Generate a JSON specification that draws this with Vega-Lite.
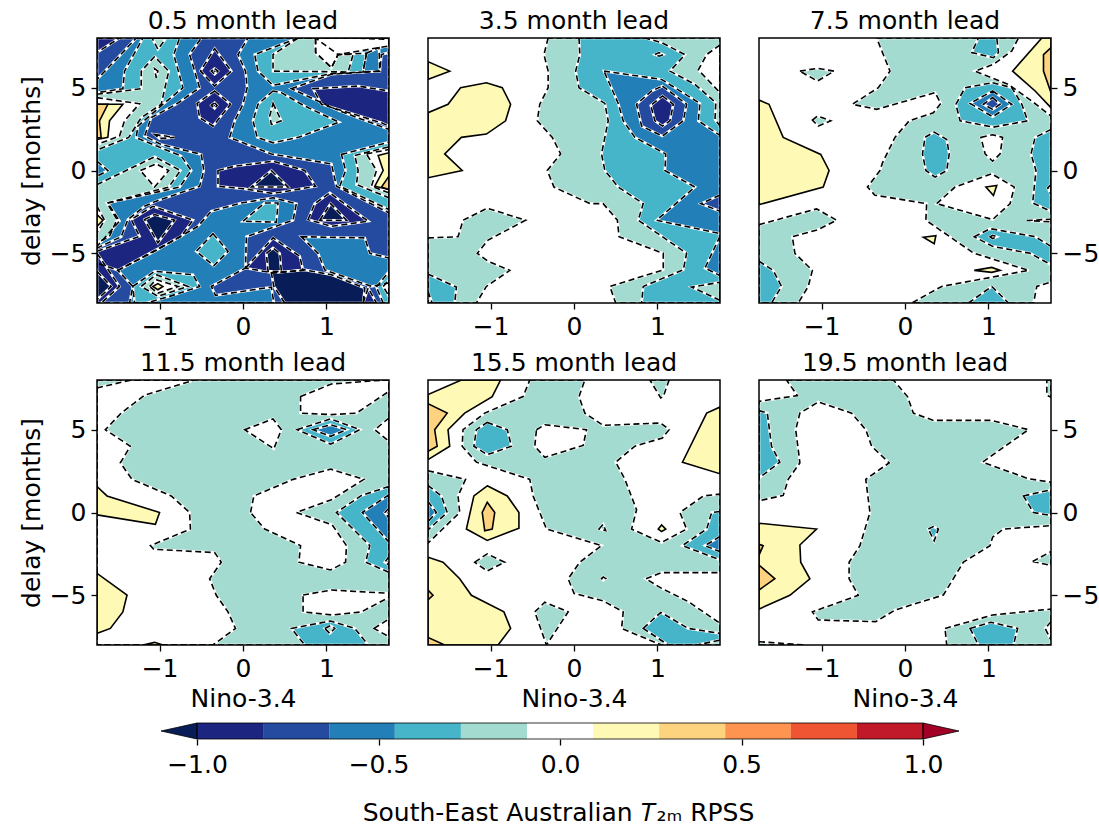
{"$schema":"https://vega.github.io/schema/vega-lite/v6.json","padding":{"left":19,"top":9,"right":5,"bottom":5},"background":"white","config":{"view":{"stroke":null},"font":"DejaVu Sans","axis":{"grid":false,"domain":false,"tickColor":"black","labelColor":"black","titleColor":"black","labelFontSize":25,"titleFontSize":25,"titleFontWeight":"normal","tickSize":6,"tickWidth":1.3,"labelPadding":5,"titlePadding":5},"title":{"fontSize":25,"fontWeight":"normal","color":"black","offset":1}},"datasets":{
"a":[
{"s":"a00","l":-0.73,"x":-1.75,"y":8},{"s":"a00","l":-0.73,"x":1.75,"y":8},{"s":"a00","l":-0.73,"x":1.75,"y":-8},{"s":"a00","l":-0.73,"x":-1.75,"y":-8},
{"s":"a01","l":-0.55,"x":-1.28,"y":8},{"s":"a01","l":-0.55,"x":-0.5,"y":8},{"s":"a01","l":-0.55,"x":-0.64,"y":7},{"s":"a01","l":-0.55,"x":-0.52,"y":5},{"s":"a01","l":-0.55,"x":-0.8,"y":4},{"s":"a01","l":-0.55,"x":-1.1,"y":3.19},{"s":"a01","l":-0.55,"x":-1.18,"y":2.08},{"s":"a01","l":-0.55,"x":-0.98,"y":1.57},{"s":"a01","l":-0.55,"x":-0.5,"y":0.97},{"s":"a01","l":-0.55,"x":-0.47,"y":0},{"s":"a01","l":-0.55,"x":-0.52,"y":-0.95},{"s":"a01","l":-0.55,"x":-1.04,"y":-1.85},{"s":"a01","l":-0.55,"x":-1.18,"y":-2.16},{"s":"a01","l":-0.55,"x":-1.38,"y":-2.96},{"s":"a01","l":-0.55,"x":-1.46,"y":-4},{"s":"a01","l":-0.55,"x":-1.75,"y":-4.68},{"s":"a01","l":-0.55,"x":-1.75,"y":5.5},{"s":"a01","l":-0.55,"x":-1.52,"y":6.71},
{"s":"a02","l":-0.55,"x":0.06,"y":8},{"s":"a02","l":-0.55,"x":1.75,"y":8},{"s":"a02","l":-0.55,"x":1.75,"y":-2.56},{"s":"a02","l":-0.55,"x":1.12,"y":-0.95},{"s":"a02","l":-0.55,"x":1.06,"y":0.4},{"s":"a02","l":-0.55,"x":0.34,"y":1},{"s":"a02","l":-0.55,"x":-0.16,"y":2},{"s":"a02","l":-0.55,"x":-0.1,"y":3},{"s":"a02","l":-0.55,"x":0,"y":4},{"s":"a02","l":-0.55,"x":0.05,"y":5},{"s":"a02","l":-0.55,"x":0.03,"y":6},{"s":"a02","l":-0.55,"x":-0.06,"y":7},
{"s":"a03","l":-0.55,"x":-1.5,"y":-6.03},{"s":"a03","l":-0.55,"x":-1.06,"y":-4.88},{"s":"a03","l":-0.55,"x":-0.54,"y":-3.37},{"s":"a03","l":-0.55,"x":-0.38,"y":-2.46},{"s":"a03","l":-0.55,"x":-0.02,"y":-1.96},{"s":"a03","l":-0.55,"x":0.36,"y":-1.65},{"s":"a03","l":-0.55,"x":0.64,"y":-2},{"s":"a03","l":-0.55,"x":0.6,"y":-3},{"s":"a03","l":-0.55,"x":0.04,"y":-4},{"s":"a03","l":-0.55,"x":0.03,"y":-5.89},{"s":"a03","l":-0.55,"x":-0.38,"y":-7},{"s":"a03","l":-0.55,"x":-0.33,"y":-7.54},{"s":"a03","l":-0.55,"x":0.34,"y":-7.04},{"s":"a03","l":-0.55,"x":0.37,"y":-8},{"s":"a03","l":-0.55,"x":-1.36,"y":-8},{"s":"a03","l":-0.55,"x":-1.32,"y":-7},
{"s":"a04","l":-0.55,"x":0.7,"y":-4},{"s":"a04","l":-0.55,"x":1.46,"y":-4.07},{"s":"a04","l":-0.55,"x":1.52,"y":-5},{"s":"a04","l":-0.55,"x":1.75,"y":-5.28},{"s":"a04","l":-0.55,"x":1.75,"y":-6.79},{"s":"a04","l":-0.55,"x":1.54,"y":-7},{"s":"a04","l":-0.55,"x":0.98,"y":-6},{"s":"a04","l":-0.55,"x":0.9,"y":-5},
{"s":"a05","l":-0.73,"x":0.58,"y":4.94},{"s":"a05","l":-0.73,"x":1.06,"y":5.81},{"s":"a05","l":-0.73,"x":1.64,"y":6},{"s":"a05","l":-0.73,"x":1.66,"y":7},{"s":"a05","l":-0.73,"x":1.75,"y":7.12},{"s":"a05","l":-0.73,"x":1.75,"y":2.48},{"s":"a05","l":-0.73,"x":1.16,"y":3.59},
{"s":"a06","l":-0.91,"x":0.84,"y":4.94},{"s":"a06","l":-0.91,"x":1.38,"y":5.1},{"s":"a06","l":-0.91,"x":1.75,"y":4.8},{"s":"a06","l":-0.91,"x":1.75,"y":2.68},{"s":"a06","l":-0.91,"x":1.66,"y":2.88},{"s":"a06","l":-0.91,"x":0.94,"y":4},
{"s":"a07","l":-0.91,"x":-1.75,"y":8},{"s":"a07","l":-0.91,"x":-1.48,"y":8},{"s":"a07","l":-0.91,"x":-1.75,"y":7.12},
{"s":"a08","l":-0.91,"x":-0.34,"y":7.36},{"s":"a08","l":-0.91,"x":-0.14,"y":6},{"s":"a08","l":-0.91,"x":-0.34,"y":5.1},{"s":"a08","l":-0.91,"x":-0.51,"y":6},
{"s":"a09","l":-1.09,"x":-0.34,"y":6.15},{"s":"a09","l":-1.09,"x":-0.3,"y":6},{"s":"a09","l":-1.09,"x":-0.34,"y":5.81},{"s":"a09","l":-1.09,"x":-0.38,"y":6},
{"s":"a10","l":-0.91,"x":-0.34,"y":4.8},{"s":"a10","l":-0.91,"x":-0.15,"y":4},{"s":"a10","l":-0.91,"x":-0.36,"y":2.68},{"s":"a10","l":-0.91,"x":-0.52,"y":3.19},{"s":"a10","l":-0.91,"x":-0.55,"y":4.05},
{"s":"a11","l":-1.09,"x":-0.34,"y":4.09},{"s":"a11","l":-1.09,"x":-0.31,"y":3.93},{"s":"a11","l":-1.09,"x":-0.34,"y":3.75},{"s":"a11","l":-1.09,"x":-0.38,"y":3.93},
{"s":"a12","l":-0.91,"x":-1.06,"y":2.18},{"s":"a12","l":-0.91,"x":-0.82,"y":2},{"s":"a12","l":-0.91,"x":-1,"y":1.92},
{"s":"a13","l":-0.91,"x":-0.3,"y":0},{"s":"a13","l":-0.91,"x":-0.1,"y":0.26},{"s":"a13","l":-0.91,"x":0.36,"y":0.56},{"s":"a13","l":-0.91,"x":0.74,"y":0},{"s":"a13","l":-0.91,"x":0.87,"y":-0.95},{"s":"a13","l":-0.91,"x":0.36,"y":-1.39},{"s":"a13","l":-0.91,"x":0.02,"y":-1.11},{"s":"a13","l":-0.91,"x":-0.3,"y":-0.95},
{"s":"a14","l":-1.09,"x":0.34,"y":0},{"s":"a14","l":-1.09,"x":0.54,"y":-1},{"s":"a14","l":-1.09,"x":0.1,"y":-1},
{"s":"a15","l":-0.91,"x":-1.75,"y":-4.88},{"s":"a15","l":-0.91,"x":-1.24,"y":-3.97},{"s":"a15","l":-0.91,"x":-1.34,"y":-2.96},{"s":"a15","l":-0.91,"x":-1.08,"y":-2.16},{"s":"a15","l":-0.91,"x":-0.6,"y":-3},{"s":"a15","l":-0.91,"x":-0.74,"y":-3.97},{"s":"a15","l":-0.91,"x":-1.5,"y":-6.03},{"s":"a15","l":-0.91,"x":-1.75,"y":-5.58},
{"s":"a16","l":-1.09,"x":-1.18,"y":-2.96},{"s":"a16","l":-1.09,"x":-1.06,"y":-2.66},{"s":"a16","l":-1.09,"x":-0.82,"y":-3},{"s":"a16","l":-1.09,"x":-1.02,"y":-4.37},
{"s":"a17","l":-0.91,"x":0.78,"y":-2.96},{"s":"a17","l":-0.91,"x":0.86,"y":-2},{"s":"a17","l":-0.91,"x":1.04,"y":-1.35},{"s":"a17","l":-0.91,"x":1.5,"y":-3.06},{"s":"a17","l":-0.91,"x":1.06,"y":-3.37},
{"s":"a18","l":-1.09,"x":0.92,"y":-3},{"s":"a18","l":-1.09,"x":1.05,"y":-2},{"s":"a18","l":-1.09,"x":1.24,"y":-3},
{"s":"a19","l":-0.91,"x":0.03,"y":-5.89},{"s":"a19","l":-0.91,"x":0.36,"y":-4.07},{"s":"a19","l":-0.91,"x":0.68,"y":-5.18},{"s":"a19","l":-0.91,"x":0.72,"y":-6.03},{"s":"a19","l":-0.91,"x":0.36,"y":-6.19},
{"s":"a20","l":-1.09,"x":0.34,"y":-6.19},{"s":"a20","l":-1.09,"x":0.74,"y":-6},{"s":"a20","l":-1.09,"x":1.06,"y":-6.29},{"s":"a20","l":-1.09,"x":1.46,"y":-7.1},{"s":"a20","l":-1.09,"x":1.44,"y":-8},{"s":"a20","l":-1.09,"x":0.5,"y":-8},{"s":"a20","l":-1.09,"x":0.37,"y":-7},
{"s":"a21","l":-1.09,"x":0.28,"y":-5},{"s":"a21","l":-1.09,"x":0.36,"y":-4.68},{"s":"a21","l":-1.09,"x":0.44,"y":-5},{"s":"a21","l":-1.09,"x":0.46,"y":-6.09},{"s":"a21","l":-1.09,"x":0.3,"y":-6.09},
{"s":"a22","l":-0.91,"x":-1.75,"y":-5},{"s":"a22","l":-0.91,"x":-1.48,"y":-7},{"s":"a22","l":-0.91,"x":-1.7,"y":-8},{"s":"a22","l":-0.91,"x":-1.75,"y":-8},
{"s":"a23","l":-1.09,"x":-1.75,"y":-6.09},{"s":"a23","l":-1.09,"x":-1.58,"y":-7},{"s":"a23","l":-1.09,"x":-1.75,"y":-7.8},
{"s":"a24","l":-0.91,"x":1.44,"y":-8},{"s":"a24","l":-0.91,"x":1.5,"y":-7.1},{"s":"a24","l":-0.91,"x":1.6,"y":-8},
{"s":"a25","l":-0.36,"x":-1.2,"y":8},{"s":"a25","l":-0.36,"x":-0.76,"y":8},{"s":"a25","l":-0.36,"x":-0.83,"y":7},{"s":"a25","l":-0.36,"x":-0.72,"y":5},{"s":"a25","l":-0.36,"x":-0.96,"y":4},{"s":"a25","l":-0.36,"x":-1.26,"y":2.68},{"s":"a25","l":-0.36,"x":-1.28,"y":1.98},{"s":"a25","l":-0.36,"x":-0.74,"y":0.87},{"s":"a25","l":-0.36,"x":-0.62,"y":0},{"s":"a25","l":-0.36,"x":-0.76,"y":-1},{"s":"a25","l":-0.36,"x":-1.62,"y":-1.96},{"s":"a25","l":-0.36,"x":-1.48,"y":-3.06},{"s":"a25","l":-0.36,"x":-1.75,"y":-4.58},{"s":"a25","l":-0.36,"x":-1.75,"y":4.7},{"s":"a25","l":-0.36,"x":-1.44,"y":4.94},{"s":"a25","l":-0.36,"x":-1.42,"y":6},
{"s":"a26","l":-0.36,"x":0.66,"y":8},{"s":"a26","l":-0.36,"x":0.14,"y":7},{"s":"a26","l":-0.36,"x":0.18,"y":6},{"s":"a26","l":-0.36,"x":0.36,"y":5.14},{"s":"a26","l":-0.36,"x":1.06,"y":5.85},{"s":"a26","l":-0.36,"x":1.44,"y":5.95},{"s":"a26","l":-0.36,"x":1.48,"y":7.08},{"s":"a26","l":-0.36,"x":1.14,"y":7},{"s":"a26","l":-0.36,"x":0.87,"y":8},
{"s":"a27","l":-0.36,"x":0.36,"y":4.8},{"s":"a27","l":-0.36,"x":0.18,"y":4},{"s":"a27","l":-0.36,"x":0.12,"y":3},{"s":"a27","l":-0.36,"x":0.17,"y":2},{"s":"a27","l":-0.36,"x":0.36,"y":1.67},{"s":"a27","l":-0.36,"x":0.66,"y":2},{"s":"a27","l":-0.36,"x":1.15,"y":2.92},{"s":"a27","l":-0.36,"x":0.74,"y":3.89},{"s":"a27","l":-0.36,"x":0.46,"y":4.7},
{"s":"a28","l":-0.36,"x":0,"y":-3.06},{"s":"a28","l":-0.36,"x":0.26,"y":-1.96},{"s":"a28","l":-0.36,"x":0.42,"y":-1.96},{"s":"a28","l":-0.36,"x":0.4,"y":-3.12},
{"s":"a29","l":-0.36,"x":-0.36,"y":-3.81},{"s":"a29","l":-0.36,"x":-0.18,"y":-4.88},{"s":"a29","l":-0.36,"x":-0.35,"y":-5.75},{"s":"a29","l":-0.36,"x":-0.56,"y":-4.88},
{"s":"a30","l":-0.36,"x":-1.32,"y":-7},{"s":"a30","l":-0.36,"x":-1.06,"y":-6.09},{"s":"a30","l":-0.36,"x":-0.6,"y":-6.29},{"s":"a30","l":-0.36,"x":-0.52,"y":-7},{"s":"a30","l":-0.36,"x":-0.88,"y":-7.6},{"s":"a30","l":-0.36,"x":-1.16,"y":-8},{"s":"a30","l":-0.36,"x":-1.3,"y":-8},
{"s":"a31","l":-0.36,"x":1.18,"y":0.97},{"s":"a31","l":-0.36,"x":1.75,"y":1.71},{"s":"a31","l":-0.36,"x":1.75,"y":-2.36},{"s":"a31","l":-0.36,"x":1.16,"y":-0.95},{"s":"a31","l":-0.36,"x":1.23,"y":0},
{"s":"a32","l":-0.36,"x":1.6,"y":-7.04},{"s":"a32","l":-0.36,"x":1.75,"y":-6.09},{"s":"a32","l":-0.36,"x":1.75,"y":-8},{"s":"a32","l":-0.36,"x":1.68,"y":-8},
{"s":"a33","l":-0.55,"x":1.48,"y":7.08},{"s":"a33","l":-0.55,"x":1.63,"y":7.42},{"s":"a33","l":-0.55,"x":1.64,"y":6},{"s":"a33","l":-0.55,"x":1.44,"y":5.95},
{"s":"a34","l":-0.55,"x":-1.75,"y":0.56},{"s":"a34","l":-0.55,"x":-1.62,"y":0},{"s":"a34","l":-0.55,"x":-1.75,"y":-0.34},
{"s":"a35","l":-0.18,"x":-1.09,"y":8},{"s":"a35","l":-0.18,"x":-0.92,"y":8},{"s":"a35","l":-0.18,"x":-1.02,"y":7.32},
{"s":"a36","l":-0.18,"x":-1.75,"y":4.6},{"s":"a36","l":-0.18,"x":-1.22,"y":4.94},{"s":"a36","l":-0.18,"x":-1.22,"y":6},{"s":"a36","l":-0.18,"x":-1.06,"y":6.88},{"s":"a36","l":-0.18,"x":-0.89,"y":6},{"s":"a36","l":-0.18,"x":-0.98,"y":4},{"s":"a36","l":-0.18,"x":-1.22,"y":3.19},{"s":"a36","l":-0.18,"x":-1.37,"y":2},{"s":"a36","l":-0.18,"x":-1.75,"y":1.23},
{"s":"a37","l":-0.18,"x":0.66,"y":8},{"s":"a37","l":-0.18,"x":0.36,"y":7},{"s":"a37","l":-0.18,"x":0.36,"y":6},{"s":"a37","l":-0.18,"x":1.26,"y":5.95},{"s":"a37","l":-0.18,"x":1.32,"y":7},{"s":"a37","l":-0.18,"x":1.14,"y":7},{"s":"a37","l":-0.18,"x":1.06,"y":6.21},{"s":"a37","l":-0.18,"x":0.87,"y":7.12},{"s":"a37","l":-0.18,"x":0.87,"y":8},
{"s":"a38","l":-0.18,"x":-1.75,"y":-0.85},{"s":"a38","l":-0.18,"x":-1.06,"y":0.83},{"s":"a38","l":-0.18,"x":-0.75,"y":0},{"s":"a38","l":-0.18,"x":-0.89,"y":-1},{"s":"a38","l":-0.18,"x":-1.63,"y":-1.96},{"s":"a38","l":-0.18,"x":-1.51,"y":-2.96},{"s":"a38","l":-0.18,"x":-1.6,"y":-3.97},{"s":"a38","l":-0.18,"x":-1.75,"y":-4.37},
{"s":"a39","l":-0.18,"x":0.36,"y":4.05},{"s":"a39","l":-0.18,"x":0.46,"y":3},{"s":"a39","l":-0.18,"x":0.34,"y":2.78},{"s":"a39","l":-0.18,"x":0.32,"y":3.29},
{"s":"a40","l":-0.18,"x":1.34,"y":0.91},{"s":"a40","l":-0.18,"x":1.75,"y":1.43},{"s":"a40","l":-0.18,"x":1.75,"y":-1.65},{"s":"a40","l":-0.18,"x":1.36,"y":-0.85},{"s":"a40","l":-0.18,"x":1.38,"y":0},
{"s":"a41","l":-0.18,"x":-1.22,"y":-7},{"s":"a41","l":-0.18,"x":-1.04,"y":-6.29},{"s":"a41","l":-0.18,"x":-0.66,"y":-7},{"s":"a41","l":-0.18,"x":-1.02,"y":-7.6},
{"s":"a42","l":0,"x":-1.75,"y":4.4},{"s":"a42","l":0,"x":-1.24,"y":4.03},{"s":"a42","l":0,"x":-1.42,"y":3},{"s":"a42","l":0,"x":-1.48,"y":2.08},{"s":"a42","l":0,"x":-1.75,"y":1.57},
{"s":"a43","l":0,"x":-1.23,"y":0},{"s":"a43","l":0,"x":-1.04,"y":0.4},{"s":"a43","l":0,"x":-0.89,"y":0},{"s":"a43","l":0,"x":-1.06,"y":-1},
{"s":"a44","l":0,"x":-1.75,"y":-2.16},{"s":"a44","l":0,"x":-1.66,"y":-3},{"s":"a44","l":0,"x":-1.75,"y":-3.77},
{"s":"a45","l":0,"x":0.87,"y":8},{"s":"a45","l":0,"x":0.87,"y":7.12},{"s":"a45","l":0,"x":1.06,"y":6.21},{"s":"a45","l":0,"x":1.14,"y":7},{"s":"a45","l":0,"x":1.75,"y":7.52},{"s":"a45","l":0,"x":1.75,"y":7.92},{"s":"a45","l":0,"x":1.3,"y":8},
{"s":"a46","l":0,"x":1.48,"y":1},{"s":"a46","l":0,"x":1.75,"y":1.27},{"s":"a46","l":0,"x":1.75,"y":-1.35},{"s":"a46","l":0,"x":1.54,"y":-0.95},{"s":"a46","l":0,"x":1.6,"y":0},
{"s":"a47","l":0,"x":-1.12,"y":-7},{"s":"a47","l":0,"x":-1.04,"y":-6.59},{"s":"a47","l":0,"x":-0.78,"y":-7},{"s":"a47","l":0,"x":-1.02,"y":-7.4},
{"s":"a48","l":0,"x":-1.06,"y":6.15},{"s":"a48","l":0,"x":-1.02,"y":6},{"s":"a48","l":0,"x":-1.04,"y":5.6},
{"s":"a49","l":0,"x":1.68,"y":-7},{"s":"a49","l":0,"x":1.75,"y":-6.59},{"s":"a49","l":0,"x":1.75,"y":-7.6},
{"s":"a50","l":0.18,"x":-1.75,"y":4},{"s":"a50","l":0.18,"x":-1.44,"y":4},{"s":"a50","l":0.18,"x":-1.6,"y":3},{"s":"a50","l":0.18,"x":-1.62,"y":2},{"s":"a50","l":0.18,"x":-1.75,"y":1.87},
{"s":"a51","l":0.36,"x":-1.75,"y":4},{"s":"a51","l":0.36,"x":-1.62,"y":4},{"s":"a51","l":0.36,"x":-1.72,"y":3},{"s":"a51","l":0.36,"x":-1.7,"y":1.98},{"s":"a51","l":0.36,"x":-1.75,"y":1.98},
{"s":"a52","l":0.18,"x":-1.75,"y":-2.66},{"s":"a52","l":0.18,"x":-1.68,"y":-3},{"s":"a52","l":0.18,"x":-1.75,"y":-3.37},
{"s":"a53","l":0.18,"x":1.62,"y":0.91},{"s":"a53","l":0.18,"x":1.75,"y":1.07},{"s":"a53","l":0.18,"x":1.75,"y":-1.15},{"s":"a53","l":0.18,"x":1.58,"y":-0.95},{"s":"a53","l":0.18,"x":1.68,"y":0},
{"s":"a54","l":0.36,"x":1.75,"y":-0.34},{"s":"a54","l":0.36,"x":1.66,"y":-1},{"s":"a54","l":0.36,"x":1.75,"y":-1.15},
{"s":"a55","l":0.18,"x":-1.08,"y":-7},{"s":"a55","l":0.18,"x":-1.02,"y":-6.83},{"s":"a55","l":0.18,"x":-0.96,"y":-7},{"s":"a55","l":0.18,"x":-1.02,"y":-7.2}
],
"b":[
{"s":"b01","l":-0.18,"x":-0.31,"y":8},{"s":"b01","l":-0.18,"x":-0.36,"y":7},{"s":"b01","l":-0.18,"x":-0.31,"y":6},{"s":"b01","l":-0.18,"x":-0.31,"y":5},{"s":"b01","l":-0.18,"x":-0.41,"y":4},{"s":"b01","l":-0.18,"x":-0.44,"y":3},{"s":"b01","l":-0.18,"x":-0.26,"y":2},{"s":"b01","l":-0.18,"x":-0.16,"y":1},{"s":"b01","l":-0.18,"x":-0.32,"y":0},{"s":"b01","l":-0.18,"x":-0.24,"y":-1},{"s":"b01","l":-0.18,"x":0.19,"y":-2},{"s":"b01","l":-0.18,"x":0.35,"y":-2},{"s":"b01","l":-0.18,"x":0.52,"y":-3},{"s":"b01","l":-0.18,"x":0.54,"y":-4},{"s":"b01","l":-0.18,"x":1.07,"y":-5},{"s":"b01","l":-0.18,"x":1.07,"y":-6},{"s":"b01","l":-0.18,"x":0.43,"y":-7},{"s":"b01","l":-0.18,"x":0.5,"y":-8},{"s":"b01","l":-0.18,"x":1.75,"y":-8},{"s":"b01","l":-0.18,"x":1.75,"y":8},
{"s":"b02","l":0,"x":1.75,"y":7.58},{"s":"b02","l":0,"x":1.59,"y":7},{"s":"b02","l":0,"x":1.49,"y":6.07},{"s":"b02","l":0,"x":1.75,"y":4.7},
{"s":"b03","l":-0.18,"x":-1.75,"y":-4.07},{"s":"b03","l":-0.18,"x":-1.39,"y":-4},{"s":"b03","l":-0.18,"x":-1.33,"y":-3},{"s":"b03","l":-0.18,"x":-1.04,"y":-2.28},{"s":"b03","l":-0.18,"x":-0.58,"y":-3},{"s":"b03","l":-0.18,"x":-1.03,"y":-4.2},{"s":"b03","l":-0.18,"x":-1.16,"y":-5},{"s":"b03","l":-0.18,"x":-1.03,"y":-5.48},{"s":"b03","l":-0.18,"x":-0.77,"y":-6.03},{"s":"b03","l":-0.18,"x":-1.05,"y":-7},{"s":"b03","l":-0.18,"x":-1.17,"y":-8},{"s":"b03","l":-0.18,"x":-1.75,"y":-8},
{"s":"b04","l":-0.36,"x":-1.75,"y":-6.25},{"s":"b04","l":-0.36,"x":-1.41,"y":-7.04},{"s":"b04","l":-0.36,"x":-1.43,"y":-8},{"s":"b04","l":-0.36,"x":-1.7,"y":-8},{"s":"b04","l":-0.36,"x":-1.75,"y":-7.3},
{"s":"b05","l":-0.36,"x":0.06,"y":8},{"s":"b05","l":-0.36,"x":0.07,"y":7},{"s":"b05","l":-0.36,"x":0.02,"y":6},{"s":"b05","l":-0.36,"x":0.06,"y":5},{"s":"b05","l":-0.36,"x":0.37,"y":4.05},{"s":"b05","l":-0.36,"x":0.41,"y":3},{"s":"b05","l":-0.36,"x":0.33,"y":1},{"s":"b05","l":-0.36,"x":0.37,"y":0},{"s":"b05","l":-0.36,"x":0.53,"y":-1},{"s":"b05","l":-0.36,"x":0.83,"y":-2},{"s":"b05","l":-0.36,"x":0.77,"y":-3},{"s":"b05","l":-0.36,"x":1.35,"y":-5},{"s":"b05","l":-0.36,"x":1.31,"y":-6},{"s":"b05","l":-0.36,"x":0.83,"y":-7},{"s":"b05","l":-0.36,"x":0.81,"y":-8},{"s":"b05","l":-0.36,"x":1.75,"y":-8},{"s":"b05","l":-0.36,"x":1.75,"y":2.68},{"s":"b05","l":-0.36,"x":1.69,"y":3.08},{"s":"b05","l":-0.36,"x":1.7,"y":4.09},{"s":"b05","l":-0.36,"x":1.45,"y":5.2},{"s":"b05","l":-0.36,"x":1.15,"y":6},{"s":"b05","l":-0.36,"x":1.33,"y":7},{"s":"b05","l":-0.36,"x":1.05,"y":7.72},{"s":"b05","l":-0.36,"x":0.85,"y":8},
{"s":"b06","l":-0.18,"x":1.75,"y":-7.84},{"s":"b06","l":-0.18,"x":1.41,"y":-7.04},{"s":"b06","l":-0.18,"x":1.75,"y":-6.75},
{"s":"b07","l":-0.55,"x":0.97,"y":7},{"s":"b07","l":-0.55,"x":1.02,"y":7.12},{"s":"b07","l":-0.55,"x":1.07,"y":7},{"s":"b07","l":-0.55,"x":1.02,"y":6.9},
{"s":"b08","l":-0.55,"x":0.36,"y":6},{"s":"b08","l":-0.55,"x":1.05,"y":5.5},{"s":"b08","l":-0.55,"x":1.51,"y":4.05},{"s":"b08","l":-0.55,"x":1.49,"y":3},{"s":"b08","l":-0.55,"x":1.75,"y":2.12},{"s":"b08","l":-0.55,"x":1.75,"y":-3.81},{"s":"b08","l":-0.55,"x":0.99,"y":-3},{"s":"b08","l":-0.55,"x":1.45,"y":-1},{"s":"b08","l":-0.55,"x":1.09,"y":0},{"s":"b08","l":-0.55,"x":1.1,"y":1},{"s":"b08","l":-0.55,"x":0.73,"y":2},{"s":"b08","l":-0.55,"x":0.59,"y":3},{"s":"b08","l":-0.55,"x":0.53,"y":4.05},
{"s":"b09","l":-0.55,"x":1.75,"y":-3.97},{"s":"b09","l":-0.55,"x":1.57,"y":-5.89},{"s":"b09","l":-0.55,"x":1.75,"y":-6.35},
{"s":"b10","l":-0.73,"x":1.75,"y":-1.49},{"s":"b10","l":-0.73,"x":1.52,"y":-2},{"s":"b10","l":-0.73,"x":1.75,"y":-2.46},
{"s":"b11","l":-0.73,"x":1.06,"y":5.1},{"s":"b11","l":-0.73,"x":1.35,"y":4},{"s":"b11","l":-0.73,"x":1.31,"y":3},{"s":"b11","l":-0.73,"x":1.06,"y":2.08},{"s":"b11","l":-0.73,"x":0.81,"y":2.68},{"s":"b11","l":-0.73,"x":0.75,"y":4},{"s":"b11","l":-0.73,"x":0.93,"y":4.8},
{"s":"b12","l":-0.91,"x":1.06,"y":4.5},{"s":"b12","l":-0.91,"x":1.19,"y":4},{"s":"b12","l":-0.91,"x":1.15,"y":3},{"s":"b12","l":-0.91,"x":1.06,"y":2.68},{"s":"b12","l":-0.91,"x":0.97,"y":3},{"s":"b12","l":-0.91,"x":0.92,"y":3.93},
{"s":"b13","l":0.18,"x":-1.75,"y":6.57},{"s":"b13","l":0.18,"x":-1.49,"y":6},{"s":"b13","l":0.18,"x":-1.75,"y":5.5},
{"s":"b14","l":0.18,"x":-1.75,"y":3.49},{"s":"b14","l":0.18,"x":-1.51,"y":4},{"s":"b14","l":0.18,"x":-1.36,"y":5},{"s":"b14","l":0.18,"x":-1.05,"y":5.3},{"s":"b14","l":0.18,"x":-0.86,"y":5},{"s":"b14","l":0.18,"x":-0.76,"y":4},{"s":"b14","l":0.18,"x":-0.82,"y":3},{"s":"b14","l":0.18,"x":-1.05,"y":2.2},{"s":"b14","l":0.18,"x":-1.35,"y":2},{"s":"b14","l":0.18,"x":-1.55,"y":1},{"s":"b14","l":0.18,"x":-1.34,"y":0},{"s":"b14","l":0.18,"x":-1.75,"y":-0.44}
],
"c":[
{"s":"c01","l":-0.18,"x":-0.34,"y":8},{"s":"c01","l":-0.18,"x":1.36,"y":8},{"s":"c01","l":-0.18,"x":1.28,"y":7.22},{"s":"c01","l":-0.18,"x":1.06,"y":6.41},{"s":"c01","l":-0.18,"x":0.84,"y":6},{"s":"c01","l":-0.18,"x":1.24,"y":5.2},{"s":"c01","l":-0.18,"x":1.52,"y":4.19},{"s":"c01","l":-0.18,"x":1.75,"y":3.29},{"s":"c01","l":-0.18,"x":1.75,"y":-6.73},{"s":"c01","l":-0.18,"x":1.58,"y":-7},{"s":"c01","l":-0.18,"x":1.54,"y":-8},{"s":"c01","l":-0.18,"x":0.08,"y":-8},{"s":"c01","l":-0.18,"x":0.44,"y":-7},{"s":"c01","l":-0.18,"x":1.48,"y":-6.03},{"s":"c01","l":-0.18,"x":0.82,"y":-4.98},{"s":"c01","l":-0.18,"x":0.25,"y":-3},{"s":"c01","l":-0.18,"x":0.26,"y":-2},{"s":"c01","l":-0.18,"x":-0.36,"y":-1.49},{"s":"c01","l":-0.18,"x":-0.45,"y":-1},{"s":"c01","l":-0.18,"x":-0.3,"y":0},{"s":"c01","l":-0.18,"x":-0.27,"y":0.46},{"s":"c01","l":-0.18,"x":-0.12,"y":2},{"s":"c01","l":-0.18,"x":0.05,"y":3},{"s":"c01","l":-0.18,"x":0.34,"y":3.49},{"s":"c01","l":-0.18,"x":0.43,"y":4.05},{"s":"c01","l":-0.18,"x":0.36,"y":4.7},{"s":"c01","l":-0.18,"x":-0.34,"y":3.69},{"s":"c01","l":-0.18,"x":-0.63,"y":4},{"s":"c01","l":-0.18,"x":-0.32,"y":5},{"s":"c01","l":-0.18,"x":-0.18,"y":6},
{"s":"c02","l":-0.18,"x":-1.75,"y":-3.27},{"s":"c02","l":-0.18,"x":-1.06,"y":-2.32},{"s":"c02","l":-0.18,"x":-0.82,"y":-3},{"s":"c02","l":-0.18,"x":-1.04,"y":-3.57},{"s":"c02","l":-0.18,"x":-1.35,"y":-4},{"s":"c02","l":-0.18,"x":-1.32,"y":-5},{"s":"c02","l":-0.18,"x":-1.11,"y":-6.03},{"s":"c02","l":-0.18,"x":-1.16,"y":-7},{"s":"c02","l":-0.18,"x":-1.28,"y":-8},{"s":"c02","l":-0.18,"x":-1.75,"y":-8},
{"s":"c03","l":-0.18,"x":-1.26,"y":6},{"s":"c03","l":-0.18,"x":-1.05,"y":6.17},{"s":"c03","l":-0.18,"x":-0.85,"y":6},{"s":"c03","l":-0.18,"x":-1.05,"y":5.4},
{"s":"c04","l":-0.18,"x":-1.11,"y":3.04},{"s":"c04","l":-0.18,"x":-1.05,"y":3.29},{"s":"c04","l":-0.18,"x":-0.89,"y":3},{"s":"c04","l":-0.18,"x":-1.04,"y":2.68},
{"s":"c05","l":0,"x":0.91,"y":2},{"s":"c05","l":0,"x":1.05,"y":2.16},{"s":"c05","l":0,"x":1.17,"y":2},{"s":"c05","l":0,"x":1.14,"y":1},{"s":"c05","l":0,"x":1.05,"y":0.56},{"s":"c05","l":0,"x":0.96,"y":1},
{"s":"c06","l":0,"x":0.38,"y":-2},{"s":"c06","l":0,"x":0.6,"y":-1},{"s":"c06","l":0,"x":1.04,"y":-0.2},{"s":"c06","l":0,"x":1.31,"y":-1},{"s":"c06","l":0,"x":1.26,"y":-2},{"s":"c06","l":0,"x":1.05,"y":-2.96},
{"s":"c07","l":-0.36,"x":0.88,"y":8},{"s":"c07","l":-0.36,"x":1.1,"y":8},{"s":"c07","l":-0.36,"x":1.12,"y":7.12},{"s":"c07","l":-0.36,"x":1.06,"y":6.81},{"s":"c07","l":-0.36,"x":0.8,"y":7.12},
{"s":"c08","l":-0.36,"x":0.76,"y":-8},{"s":"c08","l":-0.36,"x":1.04,"y":-7},{"s":"c08","l":-0.36,"x":1.24,"y":-8},
{"s":"c09","l":-0.36,"x":-1.75,"y":-5.48},{"s":"c09","l":-0.36,"x":-1.58,"y":-6.03},{"s":"c09","l":-0.36,"x":-1.48,"y":-7},{"s":"c09","l":-0.36,"x":-1.6,"y":-8},{"s":"c09","l":-0.36,"x":-1.75,"y":-8},
{"s":"c10","l":-0.36,"x":0.35,"y":2.32},{"s":"c10","l":-0.36,"x":0.5,"y":1.87},{"s":"c10","l":-0.36,"x":0.53,"y":1},{"s":"c10","l":-0.36,"x":0.5,"y":0},{"s":"c10","l":-0.36,"x":0.36,"y":-0.4},{"s":"c10","l":-0.36,"x":0.25,"y":0},{"s":"c10","l":-0.36,"x":0.21,"y":1},{"s":"c10","l":-0.36,"x":0.24,"y":2},
{"s":"c11","l":-0.36,"x":1.75,"y":2.48},{"s":"c11","l":-0.36,"x":1.56,"y":2},{"s":"c11","l":-0.36,"x":1.51,"y":1},{"s":"c11","l":-0.36,"x":1.57,"y":0},{"s":"c11","l":-0.36,"x":1.53,"y":-1.96},{"s":"c11","l":-0.36,"x":1.75,"y":-2.46},
{"s":"c12","l":-0.36,"x":1.05,"y":5.3},{"s":"c12","l":-0.36,"x":1.28,"y":5},{"s":"c12","l":-0.36,"x":1.4,"y":4},{"s":"c12","l":-0.36,"x":1.47,"y":3},{"s":"c12","l":-0.36,"x":1.06,"y":2.62},{"s":"c12","l":-0.36,"x":0.66,"y":3},{"s":"c12","l":-0.36,"x":0.61,"y":4},{"s":"c12","l":-0.36,"x":0.72,"y":5},
{"s":"c13","l":-0.36,"x":0.83,"y":-4},{"s":"c13","l":-0.36,"x":1.02,"y":-3.51},{"s":"c13","l":-0.36,"x":1.56,"y":-4},{"s":"c13","l":-0.36,"x":1.75,"y":-4.58},{"s":"c13","l":-0.36,"x":1.75,"y":-5.69},{"s":"c13","l":-0.36,"x":1.5,"y":-5},{"s":"c13","l":-0.36,"x":1.05,"y":-4.58},
{"s":"c14","l":-0.55,"x":1.05,"y":4.8},{"s":"c14","l":-0.55,"x":1.28,"y":4},{"s":"c14","l":-0.55,"x":1.05,"y":3.25},{"s":"c14","l":-0.55,"x":0.78,"y":4.05},
{"s":"c15","l":-0.73,"x":1.05,"y":4.4},{"s":"c15","l":-0.73,"x":1.14,"y":4},{"s":"c15","l":-0.73,"x":1.05,"y":3.69},{"s":"c15","l":-0.73,"x":0.94,"y":4},
{"s":"c16","l":-0.36,"x":1.46,"y":-3.02},{"s":"c16","l":-0.36,"x":1.75,"y":-2.94},{"s":"c16","l":-0.36,"x":1.75,"y":-3.1},
{"s":"c17","l":-0.18,"x":1.75,"y":-0.85},{"s":"c17","l":-0.18,"x":1.71,"y":-1.05},{"s":"c17","l":-0.18,"x":1.75,"y":-1.45},
{"s":"c18","l":-0.18,"x":1.02,"y":-4},{"s":"c18","l":-0.18,"x":1.05,"y":-3.91},{"s":"c18","l":-0.18,"x":1.1,"y":-4},{"s":"c18","l":-0.18,"x":1.05,"y":-4.11},
{"s":"c19","l":0.18,"x":-1.75,"y":4.25},{"s":"c19","l":0.18,"x":-1.63,"y":4},{"s":"c19","l":0.18,"x":-1.46,"y":2},{"s":"c19","l":0.18,"x":-1.01,"y":0.97},{"s":"c19","l":0.18,"x":-0.91,"y":0},{"s":"c19","l":0.18,"x":-0.98,"y":-1},{"s":"c19","l":0.18,"x":-1.75,"y":-2.06},
{"s":"c20","l":0.18,"x":1.75,"y":8},{"s":"c20","l":0.18,"x":1.64,"y":8},{"s":"c20","l":0.18,"x":1.29,"y":6},{"s":"c20","l":0.18,"x":1.56,"y":4.8},{"s":"c20","l":0.18,"x":1.75,"y":3.79},
{"s":"c21","l":0.36,"x":1.75,"y":7.42},{"s":"c21","l":0.36,"x":1.66,"y":7},{"s":"c21","l":0.36,"x":1.66,"y":6},{"s":"c21","l":0.36,"x":1.75,"y":4.7},
{"s":"c22","l":0.18,"x":0.97,"y":-1},{"s":"c22","l":0.18,"x":1.1,"y":-0.91},{"s":"c22","l":0.18,"x":1.06,"y":-1.51},
{"s":"c23","l":0.18,"x":0.22,"y":-4.03},{"s":"c23","l":0.18,"x":0.37,"y":-3.93},{"s":"c23","l":0.18,"x":0.35,"y":-4.42},
{"s":"c24","l":0.18,"x":0.83,"y":-6.03},{"s":"c24","l":0.18,"x":1.04,"y":-5.85},{"s":"c24","l":0.18,"x":1.14,"y":-6.03},{"s":"c24","l":0.18,"x":1.04,"y":-6.15}
],
"d":[
{"s":"d00","l":-0.18,"x":-1.75,"y":8},{"s":"d00","l":-0.18,"x":1.75,"y":8},{"s":"d00","l":-0.18,"x":1.75,"y":-8},{"s":"d00","l":-0.18,"x":-1.75,"y":-8},
{"s":"d01","l":0,"x":-1.75,"y":7.52},{"s":"d01","l":0,"x":-1.34,"y":8},{"s":"d01","l":0,"x":-0.58,"y":8},{"s":"d01","l":0,"x":-1.18,"y":7.08},{"s":"d01","l":0,"x":-1.46,"y":6},{"s":"d01","l":0,"x":-1.65,"y":5},{"s":"d01","l":0,"x":-1.35,"y":4},{"s":"d01","l":0,"x":-1.47,"y":3},{"s":"d01","l":0,"x":-1.33,"y":2},{"s":"d01","l":0,"x":-0.86,"y":1},{"s":"d01","l":0,"x":-0.64,"y":0},{"s":"d01","l":0,"x":-0.63,"y":-1},{"s":"d01","l":0,"x":-1.11,"y":-2},{"s":"d01","l":0,"x":-1.07,"y":-2.22},{"s":"d01","l":0,"x":-0.34,"y":-2.42},{"s":"d01","l":0,"x":-0.26,"y":-3},{"s":"d01","l":0,"x":-0.4,"y":-4},{"s":"d01","l":0,"x":-0.32,"y":-5},{"s":"d01","l":0,"x":-0.18,"y":-6},{"s":"d01","l":0,"x":-0.09,"y":-7},{"s":"d01","l":0,"x":-0.36,"y":-8},{"s":"d01","l":0,"x":-1.75,"y":-8},
{"s":"d02","l":0,"x":0.02,"y":5},{"s":"d02","l":0,"x":0.36,"y":5.65},{"s":"d02","l":0,"x":0.46,"y":5},{"s":"d02","l":0,"x":0.37,"y":3.85},
{"s":"d03","l":0,"x":0.69,"y":7},{"s":"d03","l":0,"x":1.06,"y":7.76},{"s":"d03","l":0,"x":1.7,"y":8},{"s":"d03","l":0,"x":1.75,"y":8},{"s":"d03","l":0,"x":1.75,"y":7.32},{"s":"d03","l":0,"x":1.36,"y":6},{"s":"d03","l":0,"x":1.06,"y":5.91},{"s":"d03","l":0,"x":0.69,"y":6},
{"s":"d04","l":0,"x":1.75,"y":5.71},{"s":"d04","l":0,"x":1.58,"y":5},{"s":"d04","l":0,"x":1.75,"y":4.29},
{"s":"d05","l":0,"x":0.09,"y":0},{"s":"d05","l":0,"x":0.13,"y":1},{"s":"d05","l":0,"x":0.6,"y":2},{"s":"d05","l":0,"x":1.05,"y":2.62},{"s":"d05","l":0,"x":1.45,"y":2},{"s":"d05","l":0,"x":1.06,"y":0.77},{"s":"d05","l":0,"x":0.64,"y":0},{"s":"d05","l":0,"x":1.07,"y":-0.75},{"s":"d05","l":0,"x":1.24,"y":-2},{"s":"d05","l":0,"x":1.23,"y":-3},{"s":"d05","l":0,"x":1.05,"y":-3.47},{"s":"d05","l":0,"x":0.67,"y":-3},{"s":"d05","l":0,"x":0.69,"y":-2},{"s":"d05","l":0,"x":0.26,"y":-1},
{"s":"d06","l":0,"x":0.72,"y":-4.98},{"s":"d06","l":0,"x":1.06,"y":-4.68},{"s":"d06","l":0,"x":1.75,"y":-4.88},{"s":"d06","l":0,"x":1.75,"y":-5.12},{"s":"d06","l":0,"x":1.42,"y":-6},{"s":"d06","l":0,"x":1.07,"y":-6.19},{"s":"d06","l":0,"x":0.72,"y":-6},
{"s":"d07","l":0,"x":1.57,"y":-7},{"s":"d07","l":0,"x":1.75,"y":-6.43},{"s":"d07","l":0,"x":1.75,"y":-7.5},
{"s":"d08","l":-0.36,"x":0.58,"y":-7},{"s":"d08","l":-0.36,"x":1.05,"y":-6.55},{"s":"d08","l":-0.36,"x":1.34,"y":-7},{"s":"d08","l":-0.36,"x":1.5,"y":-8},{"s":"d08","l":-0.36,"x":0.74,"y":-8},
{"s":"d09","l":-0.18,"x":0.98,"y":-7},{"s":"d09","l":-0.18,"x":1.05,"y":-6.83},{"s":"d09","l":-0.18,"x":1.1,"y":-7},{"s":"d09","l":-0.18,"x":1.04,"y":-7.3},
{"s":"d10","l":-0.36,"x":0.65,"y":5},{"s":"d10","l":-0.36,"x":1.05,"y":5.65},{"s":"d10","l":-0.36,"x":1.4,"y":5},{"s":"d10","l":-0.36,"x":1.05,"y":4.13},
{"s":"d11","l":-0.55,"x":0.84,"y":5},{"s":"d11","l":-0.55,"x":1.05,"y":5.3},{"s":"d11","l":-0.55,"x":1.24,"y":5},{"s":"d11","l":-0.55,"x":1.05,"y":4.6},
{"s":"d12","l":-0.36,"x":1.75,"y":1.57},{"s":"d12","l":-0.36,"x":1.42,"y":1.03},{"s":"d12","l":-0.36,"x":1.12,"y":0},{"s":"d12","l":-0.36,"x":1.52,"y":-2},{"s":"d12","l":-0.36,"x":1.47,"y":-3},{"s":"d12","l":-0.36,"x":1.75,"y":-3.61},
{"s":"d13","l":-0.55,"x":1.75,"y":1.07},{"s":"d13","l":-0.55,"x":1.43,"y":0},{"s":"d13","l":-0.55,"x":1.75,"y":-1.79},
{"s":"d14","l":-0.73,"x":1.75,"y":0.26},{"s":"d14","l":-0.73,"x":1.7,"y":0},{"s":"d14","l":-0.73,"x":1.75,"y":-0.34},
{"s":"d15","l":-0.55,"x":1.75,"y":-2.66},{"s":"d15","l":-0.55,"x":1.7,"y":-3},{"s":"d15","l":-0.55,"x":1.75,"y":-3.17},
{"s":"d16","l":0.18,"x":-1.75,"y":1.57},{"s":"d16","l":0.18,"x":-1.63,"y":1},{"s":"d16","l":0.18,"x":-1,"y":0},{"s":"d16","l":0.18,"x":-1.05,"y":-0.71},{"s":"d16","l":0.18,"x":-1.75,"y":-0.14},
{"s":"d17","l":0.18,"x":-1.75,"y":-3.67},{"s":"d17","l":0.18,"x":-1.39,"y":-4.98},{"s":"d17","l":0.18,"x":-1.44,"y":-6},{"s":"d17","l":0.18,"x":-1.59,"y":-7},{"s":"d17","l":0.18,"x":-1.75,"y":-7.3},
{"s":"d18","l":0.18,"x":-1.2,"y":-8},{"s":"d18","l":0.18,"x":-1.06,"y":-7.84},{"s":"d18","l":0.18,"x":-0.96,"y":-8}
],
"e":[
{"s":"e01","l":-0.18,"x":-0.53,"y":8},{"s":"e01","l":-0.18,"x":0.13,"y":8},{"s":"e01","l":-0.18,"x":0.06,"y":7},{"s":"e01","l":-0.18,"x":0.13,"y":6},{"s":"e01","l":-0.18,"x":0.35,"y":5.26},{"s":"e01","l":-0.18,"x":1.04,"y":5.4},{"s":"e01","l":-0.18,"x":1.14,"y":5},{"s":"e01","l":-0.18,"x":1.06,"y":4.5},{"s":"e01","l":-0.18,"x":0.73,"y":4},{"s":"e01","l":-0.18,"x":0.5,"y":3.04},{"s":"e01","l":-0.18,"x":0.61,"y":2},{"s":"e01","l":-0.18,"x":0.75,"y":0.16},{"s":"e01","l":-0.18,"x":0.69,"y":-1},{"s":"e01","l":-0.18,"x":1.05,"y":-1.81},{"s":"e01","l":-0.18,"x":1.35,"y":-1},{"s":"e01","l":-0.18,"x":1.27,"y":0},{"s":"e01","l":-0.18,"x":1.55,"y":1},{"s":"e01","l":-0.18,"x":1.75,"y":1.11},{"s":"e01","l":-0.18,"x":1.75,"y":-3.63},{"s":"e01","l":-0.18,"x":1.05,"y":-3.63},{"s":"e01","l":-0.18,"x":0.86,"y":-4},{"s":"e01","l":-0.18,"x":1.05,"y":-4.58},{"s":"e01","l":-0.18,"x":1.37,"y":-5.38},{"s":"e01","l":-0.18,"x":1.75,"y":-6.69},{"s":"e01","l":-0.18,"x":1.75,"y":-8},{"s":"e01","l":-0.18,"x":1.05,"y":-8},{"s":"e01","l":-0.18,"x":0.57,"y":-7},{"s":"e01","l":-0.18,"x":0.59,"y":-6},{"s":"e01","l":-0.18,"x":0.35,"y":-5.34},{"s":"e01","l":-0.18,"x":0,"y":-4.88},{"s":"e01","l":-0.18,"x":-0.07,"y":-4},{"s":"e01","l":-0.18,"x":0.07,"y":-3},{"s":"e01","l":-0.18,"x":0.33,"y":-2},{"s":"e01","l":-0.18,"x":-0.33,"y":-1},{"s":"e01","l":-0.18,"x":-0.49,"y":1},{"s":"e01","l":-0.18,"x":-0.53,"y":2},{"s":"e01","l":-0.18,"x":-1.17,"y":3.04},{"s":"e01","l":-0.18,"x":-1.34,"y":4},{"s":"e01","l":-0.18,"x":-1.33,"y":5},{"s":"e01","l":-0.18,"x":-1.07,"y":6},{"s":"e01","l":-0.18,"x":-0.61,"y":7},
{"s":"e02","l":-0.18,"x":0.91,"y":8},{"s":"e02","l":-0.18,"x":1.14,"y":8},{"s":"e02","l":-0.18,"x":1.07,"y":7},{"s":"e02","l":-0.18,"x":1.04,"y":6.92},
{"s":"e03","l":-0.18,"x":-1.75,"y":2.52},{"s":"e03","l":-0.18,"x":-1.3,"y":2},{"s":"e03","l":-0.18,"x":-1.39,"y":1},{"s":"e03","l":-0.18,"x":-1.37,"y":0},{"s":"e03","l":-0.18,"x":-1.75,"y":-1.85},
{"s":"e04","l":-0.18,"x":-1.19,"y":-3},{"s":"e04","l":-0.18,"x":-1.04,"y":-2.5},{"s":"e04","l":-0.18,"x":-0.83,"y":-3},{"s":"e04","l":-0.18,"x":-1.04,"y":-3.53},
{"s":"e05","l":-0.18,"x":-0.47,"y":-6},{"s":"e05","l":-0.18,"x":-0.35,"y":-5.42},{"s":"e05","l":-0.18,"x":-0.07,"y":-6},{"s":"e05","l":-0.18,"x":-0.33,"y":-8},
{"s":"e06","l":0,"x":-0.45,"y":5},{"s":"e06","l":0,"x":-0.35,"y":5.3},{"s":"e06","l":0,"x":0.15,"y":5},{"s":"e06","l":0,"x":0.11,"y":4.05},{"s":"e06","l":0,"x":-0.35,"y":3.33},{"s":"e06","l":0,"x":-0.47,"y":4},
{"s":"e07","l":-0.36,"x":-1.75,"y":1.63},{"s":"e07","l":-0.36,"x":-1.59,"y":1},{"s":"e07","l":-0.36,"x":-1.52,"y":0},{"s":"e07","l":-0.36,"x":-1.75,"y":-1.05},
{"s":"e08","l":-0.55,"x":-1.75,"y":0.67},{"s":"e08","l":-0.55,"x":-1.65,"y":0},{"s":"e08","l":-0.55,"x":-1.75,"y":-0.54},
{"s":"e09","l":-0.36,"x":-1.04,"y":5.44},{"s":"e09","l":-0.36,"x":-0.8,"y":5},{"s":"e09","l":-0.36,"x":-0.75,"y":4},{"s":"e09","l":-0.36,"x":-1.04,"y":3.49},{"s":"e09","l":-0.36,"x":-1.2,"y":4},{"s":"e09","l":-0.36,"x":-1.17,"y":5},
{"s":"e10","l":-0.36,"x":1.75,"y":0.06},{"s":"e10","l":-0.36,"x":1.65,"y":0},{"s":"e10","l":-0.36,"x":1.59,"y":-1},{"s":"e10","l":-0.36,"x":1.3,"y":-2},{"s":"e10","l":-0.36,"x":1.75,"y":-2.86},
{"s":"e11","l":-0.55,"x":1.75,"y":-1.45},{"s":"e11","l":-0.55,"x":1.57,"y":-2},{"s":"e11","l":-0.55,"x":1.75,"y":-2.36},
{"s":"e12","l":-0.36,"x":0.83,"y":-7},{"s":"e12","l":-0.36,"x":1.04,"y":-6.03},{"s":"e12","l":-0.36,"x":1.37,"y":-7},{"s":"e12","l":-0.36,"x":1.75,"y":-7.3},{"s":"e12","l":-0.36,"x":1.75,"y":-7.7},{"s":"e12","l":-0.36,"x":1.47,"y":-8},{"s":"e12","l":-0.36,"x":1.13,"y":-8},
{"s":"e13","l":-0.36,"x":0.3,"y":-1},{"s":"e13","l":-0.36,"x":0.35,"y":-0.71},{"s":"e13","l":-0.36,"x":0.38,"y":-1.09},
{"s":"e14","l":-0.36,"x":0.33,"y":-3.99},{"s":"e14","l":-0.36,"x":0.35,"y":-3.89},{"s":"e14","l":-0.36,"x":0.38,"y":-3.99},{"s":"e14","l":-0.36,"x":0.35,"y":-4.09},
{"s":"e15","l":0.18,"x":-1.75,"y":7.12},{"s":"e15","l":0.18,"x":-1.35,"y":8},{"s":"e15","l":0.18,"x":-0.88,"y":8},{"s":"e15","l":0.18,"x":-0.98,"y":7},{"s":"e15","l":0.18,"x":-1.31,"y":6},{"s":"e15","l":0.18,"x":-1.51,"y":5},{"s":"e15","l":0.18,"x":-1.49,"y":4},{"s":"e15","l":0.18,"x":-1.75,"y":3.19},
{"s":"e16","l":0.36,"x":-1.75,"y":6.57},{"s":"e16","l":0.36,"x":-1.52,"y":6},{"s":"e16","l":0.36,"x":-1.67,"y":5},{"s":"e16","l":0.36,"x":-1.64,"y":4},{"s":"e16","l":0.36,"x":-1.75,"y":3.69},
{"s":"e17","l":0.18,"x":-1.04,"y":1.61},{"s":"e17","l":0.18,"x":-0.8,"y":1},{"s":"e17","l":0.18,"x":-0.66,"y":0},{"s":"e17","l":0.18,"x":-0.66,"y":-0.95},{"s":"e17","l":0.18,"x":-1.04,"y":-1.69},{"s":"e17","l":0.18,"x":-1.29,"y":-1},{"s":"e17","l":0.18,"x":-1.2,"y":1},
{"s":"e18","l":0.36,"x":-1.04,"y":0.62},{"s":"e18","l":0.36,"x":-0.95,"y":0},{"s":"e18","l":0.36,"x":-0.98,"y":-1},{"s":"e18","l":0.36,"x":-1.07,"y":-1.11},{"s":"e18","l":0.36,"x":-1.1,"y":0},
{"s":"e19","l":0.18,"x":1.75,"y":6.37},{"s":"e19","l":0.18,"x":1.59,"y":6},{"s":"e19","l":0.18,"x":1.3,"y":3.04},{"s":"e19","l":0.18,"x":1.75,"y":2.34},
{"s":"e20","l":0.18,"x":-1.75,"y":-2.7},{"s":"e20","l":0.18,"x":-1.57,"y":-3},{"s":"e20","l":0.18,"x":-1.37,"y":-4},{"s":"e20","l":0.18,"x":-1.23,"y":-5},{"s":"e20","l":0.18,"x":-0.84,"y":-6},{"s":"e20","l":0.18,"x":-0.76,"y":-7},{"s":"e20","l":0.18,"x":-0.91,"y":-8},{"s":"e20","l":0.18,"x":-1.75,"y":-8},
{"s":"e21","l":0.36,"x":-1.75,"y":-7.54},{"s":"e21","l":0.36,"x":-1.55,"y":-8},{"s":"e21","l":0.36,"x":-1.75,"y":-8},
{"s":"e22","l":0.36,"x":-1.75,"y":-4.68},{"s":"e22","l":0.36,"x":-1.69,"y":-5},{"s":"e22","l":0.36,"x":-1.75,"y":-5.28},
{"s":"e23","l":0.18,"x":1.01,"y":-1},{"s":"e23","l":0.18,"x":1.05,"y":-0.75},{"s":"e23","l":0.18,"x":1.1,"y":-1},{"s":"e23","l":0.18,"x":1.05,"y":-1.15}
],
"f":[
{"s":"f01","l":-0.18,"x":-1.42,"y":8},{"s":"f01","l":-0.18,"x":-0.14,"y":8},{"s":"f01","l":-0.18,"x":0.03,"y":7},{"s":"f01","l":-0.18,"x":0.1,"y":6},{"s":"f01","l":-0.18,"x":0.34,"y":5.56},{"s":"f01","l":-0.18,"x":1.04,"y":5.56},{"s":"f01","l":-0.18,"x":1.48,"y":5},{"s":"f01","l":-0.18,"x":0.93,"y":3.04},{"s":"f01","l":-0.18,"x":1.48,"y":2.04},{"s":"f01","l":-0.18,"x":1.75,"y":1.83},{"s":"f01","l":-0.18,"x":1.75,"y":-0.79},{"s":"f01","l":-0.18,"x":1.18,"y":-1},{"s":"f01","l":-0.18,"x":1.05,"y":-1.49},{"s":"f01","l":-0.18,"x":1.02,"y":-2},{"s":"f01","l":-0.18,"x":0.7,"y":-3},{"s":"f01","l":-0.18,"x":0.46,"y":-4.98},{"s":"f01","l":-0.18,"x":-0.12,"y":-5.89},{"s":"f01","l":-0.18,"x":-0.35,"y":-6.59},{"s":"f01","l":-0.18,"x":-1.04,"y":-6.49},{"s":"f01","l":-0.18,"x":-1.11,"y":-6},{"s":"f01","l":-0.18,"x":-0.56,"y":-5},{"s":"f01","l":-0.18,"x":-0.67,"y":-4},{"s":"f01","l":-0.18,"x":-0.67,"y":-3},{"s":"f01","l":-0.18,"x":-0.54,"y":-2},{"s":"f01","l":-0.18,"x":-0.42,"y":0},{"s":"f01","l":-0.18,"x":-0.47,"y":2},{"s":"f01","l":-0.18,"x":-0.19,"y":3},{"s":"f01","l":-0.18,"x":-0.4,"y":4},{"s":"f01","l":-0.18,"x":-0.47,"y":5},{"s":"f01","l":-0.18,"x":-0.64,"y":6},{"s":"f01","l":-0.18,"x":-1.04,"y":6.67},{"s":"f01","l":-0.18,"x":-1.26,"y":6},{"s":"f01","l":-0.18,"x":-1.31,"y":5},{"s":"f01","l":-0.18,"x":-1.26,"y":3},{"s":"f01","l":-0.18,"x":-1.4,"y":2},{"s":"f01","l":-0.18,"x":-1.46,"y":1.03},{"s":"f01","l":-0.18,"x":-1.75,"y":0.71},{"s":"f01","l":-0.18,"x":-1.75,"y":6.71},{"s":"f01","l":-0.18,"x":-1.29,"y":7.06},
{"s":"f02","l":-0.18,"x":1.7,"y":8},{"s":"f02","l":-0.18,"x":1.75,"y":8},{"s":"f02","l":-0.18,"x":1.75,"y":6.96},{"s":"f02","l":-0.18,"x":1.7,"y":7.08},
{"s":"f03","l":-0.18,"x":1.53,"y":-2.96},{"s":"f03","l":-0.18,"x":1.75,"y":-2.36},{"s":"f03","l":-0.18,"x":1.75,"y":-3.2},
{"s":"f04","l":-0.18,"x":0.48,"y":-7},{"s":"f04","l":-0.18,"x":1.05,"y":-6.19},{"s":"f04","l":-0.18,"x":1.75,"y":-5.83},{"s":"f04","l":-0.18,"x":1.75,"y":-8},{"s":"f04","l":-0.18,"x":0.5,"y":-8},
{"s":"f05","l":0,"x":1.75,"y":-6.59},{"s":"f05","l":0,"x":1.68,"y":-7},{"s":"f05","l":0,"x":1.75,"y":-7.7},
{"s":"f06","l":-0.18,"x":-1.75,"y":-7.8},{"s":"f06","l":-0.18,"x":-1.2,"y":-8},{"s":"f06","l":-0.18,"x":-1.75,"y":-8},
{"s":"f07","l":-0.36,"x":-1.75,"y":6.15},{"s":"f07","l":-0.36,"x":-1.65,"y":6},{"s":"f07","l":-0.36,"x":-1.6,"y":4},{"s":"f07","l":-0.36,"x":-1.5,"y":3.04},{"s":"f07","l":-0.36,"x":-1.75,"y":2.08},
{"s":"f08","l":-0.36,"x":1.42,"y":1},{"s":"f08","l":-0.36,"x":1.75,"y":1.37},{"s":"f08","l":-0.36,"x":1.75,"y":-0.18},{"s":"f08","l":-0.36,"x":1.54,"y":0},
{"s":"f09","l":-0.36,"x":0.28,"y":-1},{"s":"f09","l":-0.36,"x":0.34,"y":-0.85},{"s":"f09","l":-0.36,"x":0.4,"y":-1},{"s":"f09","l":-0.36,"x":0.35,"y":-1.71},
{"s":"f10","l":-0.36,"x":0.78,"y":-7},{"s":"f10","l":-0.36,"x":1.03,"y":-6.63},{"s":"f10","l":-0.36,"x":1.35,"y":-7},{"s":"f10","l":-0.36,"x":1.3,"y":-8},{"s":"f10","l":-0.36,"x":0.88,"y":-8},
{"s":"f11","l":0.18,"x":-1.75,"y":-0.65},{"s":"f11","l":0.18,"x":-1.06,"y":-1},{"s":"f11","l":0.18,"x":-1.26,"y":-1.96},{"s":"f11","l":0.18,"x":-1.25,"y":-3},{"s":"f11","l":0.18,"x":-1.14,"y":-4},{"s":"f11","l":0.18,"x":-1.38,"y":-5},{"s":"f11","l":0.18,"x":-1.75,"y":-5.83},
{"s":"f12","l":0.36,"x":-1.75,"y":-3.17},{"s":"f12","l":0.36,"x":-1.56,"y":-4},{"s":"f12","l":0.36,"x":-1.75,"y":-4.68},
{"s":"f13","l":0.36,"x":-1.75,"y":-1.92},{"s":"f13","l":0.36,"x":-1.7,"y":-2},{"s":"f13","l":0.36,"x":-1.74,"y":-2.46}
],
"frame":[{"s":"frame","x":-1.75,"y":8},{"s":"frame","x":1.75,"y":8},{"s":"frame","x":1.75,"y":-8},{"s":"frame","x":-1.75,"y":-8}]
},
"vconcat":[{"vconcat":[
{"hconcat":[
{"width":292,"height":265,"title":"0.5 month lead","data":{"name":"a"},"encoding":{"x":{"field":"x","type":"quantitative","scale":{"domain":[-1.75,1.75],"nice":false,"zero":false},"axis":{"title":null,"values":[-1,0,1],"format":"d"}},"y":{"field":"y","type":"quantitative","scale":{"domain":[-8,8],"nice":false,"zero":false},"axis":{"title":"delay [months]","values":[-5,0,5],"format":"d"}},"order":{"value":null},"detail":{"field":"s"}},"layer":[
{"transform":[{"filter":{"field":"l","lte":0}}],"mark":{"type":"line","interpolate":"linear-closed","clip":true,"stroke":"white","strokeWidth":2.6},"encoding":{"fill":{"field":"l","type":"ordinal","legend":null,"scale":{"domain":[-1.09,-0.91,-0.73,-0.55,-0.36,-0.18,0,0.18,0.36,0.55,0.73,0.91,1.09],"range":["#081d58","#1c2680","#244ba0","#227fb8","#46b5c9","#a3dbd0","#ffffff","#fefab5","#fed380","#fe9450","#ef5433","#c1182a","#a30026"]}}}},
{"transform":[{"filter":{"field":"l","lte":0}}],"mark":{"type":"line","interpolate":"linear-closed","clip":true,"stroke":"black","strokeWidth":1.6,"strokeDash":[6,3.5]}},
{"transform":[{"filter":{"field":"l","gt":0}}],"mark":{"type":"line","interpolate":"linear-closed","clip":true,"stroke":"black","strokeWidth":1.6},"encoding":{"fill":{"field":"l","type":"ordinal","legend":null,"scale":{"domain":[-1.09,-0.91,-0.73,-0.55,-0.36,-0.18,0,0.18,0.36,0.55,0.73,0.91,1.09],"range":["#081d58","#1c2680","#244ba0","#227fb8","#46b5c9","#a3dbd0","#ffffff","#fefab5","#fed380","#fe9450","#ef5433","#c1182a","#a30026"]}}}},
{"data":{"name":"frame"},"mark":{"type":"line","interpolate":"linear-closed","stroke":"black","strokeWidth":1.5}}
]},
{"width":292,"height":265,"title":"3.5 month lead","data":{"name":"b"},"encoding":{"x":{"field":"x","type":"quantitative","scale":{"domain":[-1.75,1.75],"nice":false,"zero":false},"axis":{"title":null,"values":[-1,0,1],"format":"d"}},"y":{"field":"y","type":"quantitative","scale":{"domain":[-8,8],"nice":false,"zero":false},"axis":null},"order":{"value":null},"detail":{"field":"s"}},"layer":[
{"transform":[{"filter":{"field":"l","lte":0}}],"mark":{"type":"line","interpolate":"linear-closed","clip":true,"stroke":"white","strokeWidth":2.6},"encoding":{"fill":{"field":"l","type":"ordinal","legend":null,"scale":{"domain":[-1.09,-0.91,-0.73,-0.55,-0.36,-0.18,0,0.18,0.36,0.55,0.73,0.91,1.09],"range":["#081d58","#1c2680","#244ba0","#227fb8","#46b5c9","#a3dbd0","#ffffff","#fefab5","#fed380","#fe9450","#ef5433","#c1182a","#a30026"]}}}},
{"transform":[{"filter":{"field":"l","lte":0}}],"mark":{"type":"line","interpolate":"linear-closed","clip":true,"stroke":"black","strokeWidth":1.6,"strokeDash":[6,3.5]}},
{"transform":[{"filter":{"field":"l","gt":0}}],"mark":{"type":"line","interpolate":"linear-closed","clip":true,"stroke":"black","strokeWidth":1.6},"encoding":{"fill":{"field":"l","type":"ordinal","legend":null,"scale":{"domain":[-1.09,-0.91,-0.73,-0.55,-0.36,-0.18,0,0.18,0.36,0.55,0.73,0.91,1.09],"range":["#081d58","#1c2680","#244ba0","#227fb8","#46b5c9","#a3dbd0","#ffffff","#fefab5","#fed380","#fe9450","#ef5433","#c1182a","#a30026"]}}}},
{"data":{"name":"frame"},"mark":{"type":"line","interpolate":"linear-closed","stroke":"black","strokeWidth":1.5}}
]},
{"width":292,"height":265,"title":"7.5 month lead","data":{"name":"c"},"encoding":{"x":{"field":"x","type":"quantitative","scale":{"domain":[-1.75,1.75],"nice":false,"zero":false},"axis":{"title":null,"values":[-1,0,1],"format":"d"}},"y":{"field":"y","type":"quantitative","scale":{"domain":[-8,8],"nice":false,"zero":false},"axis":{"title":null,"orient":"right","values":[-5,0,5],"format":"d"}},"order":{"value":null},"detail":{"field":"s"}},"layer":[
{"transform":[{"filter":{"field":"l","lte":0}}],"mark":{"type":"line","interpolate":"linear-closed","clip":true,"stroke":"white","strokeWidth":2.6},"encoding":{"fill":{"field":"l","type":"ordinal","legend":null,"scale":{"domain":[-1.09,-0.91,-0.73,-0.55,-0.36,-0.18,0,0.18,0.36,0.55,0.73,0.91,1.09],"range":["#081d58","#1c2680","#244ba0","#227fb8","#46b5c9","#a3dbd0","#ffffff","#fefab5","#fed380","#fe9450","#ef5433","#c1182a","#a30026"]}}}},
{"transform":[{"filter":{"field":"l","lte":0}}],"mark":{"type":"line","interpolate":"linear-closed","clip":true,"stroke":"black","strokeWidth":1.6,"strokeDash":[6,3.5]}},
{"transform":[{"filter":{"field":"l","gt":0}}],"mark":{"type":"line","interpolate":"linear-closed","clip":true,"stroke":"black","strokeWidth":1.6},"encoding":{"fill":{"field":"l","type":"ordinal","legend":null,"scale":{"domain":[-1.09,-0.91,-0.73,-0.55,-0.36,-0.18,0,0.18,0.36,0.55,0.73,0.91,1.09],"range":["#081d58","#1c2680","#244ba0","#227fb8","#46b5c9","#a3dbd0","#ffffff","#fefab5","#fed380","#fe9450","#ef5433","#c1182a","#a30026"]}}}},
{"data":{"name":"frame"},"mark":{"type":"line","interpolate":"linear-closed","stroke":"black","strokeWidth":1.5}}
]}
],"spacing":39,"bounds":"flush"},
{"hconcat":[
{"width":292,"height":265,"title":"11.5 month lead","data":{"name":"d"},"encoding":{"x":{"field":"x","type":"quantitative","scale":{"domain":[-1.75,1.75],"nice":false,"zero":false},"axis":{"title":"Nino-3.4","values":[-1,0,1],"format":"d"}},"y":{"field":"y","type":"quantitative","scale":{"domain":[-8,8],"nice":false,"zero":false},"axis":{"title":"delay [months]","values":[-5,0,5],"format":"d"}},"order":{"value":null},"detail":{"field":"s"}},"layer":[
{"transform":[{"filter":{"field":"l","lte":0}}],"mark":{"type":"line","interpolate":"linear-closed","clip":true,"stroke":"white","strokeWidth":2.6},"encoding":{"fill":{"field":"l","type":"ordinal","legend":null,"scale":{"domain":[-1.09,-0.91,-0.73,-0.55,-0.36,-0.18,0,0.18,0.36,0.55,0.73,0.91,1.09],"range":["#081d58","#1c2680","#244ba0","#227fb8","#46b5c9","#a3dbd0","#ffffff","#fefab5","#fed380","#fe9450","#ef5433","#c1182a","#a30026"]}}}},
{"transform":[{"filter":{"field":"l","lte":0}}],"mark":{"type":"line","interpolate":"linear-closed","clip":true,"stroke":"black","strokeWidth":1.6,"strokeDash":[6,3.5]}},
{"transform":[{"filter":{"field":"l","gt":0}}],"mark":{"type":"line","interpolate":"linear-closed","clip":true,"stroke":"black","strokeWidth":1.6},"encoding":{"fill":{"field":"l","type":"ordinal","legend":null,"scale":{"domain":[-1.09,-0.91,-0.73,-0.55,-0.36,-0.18,0,0.18,0.36,0.55,0.73,0.91,1.09],"range":["#081d58","#1c2680","#244ba0","#227fb8","#46b5c9","#a3dbd0","#ffffff","#fefab5","#fed380","#fe9450","#ef5433","#c1182a","#a30026"]}}}},
{"data":{"name":"frame"},"mark":{"type":"line","interpolate":"linear-closed","stroke":"black","strokeWidth":1.5}}
]},
{"width":292,"height":265,"title":"15.5 month lead","data":{"name":"e"},"encoding":{"x":{"field":"x","type":"quantitative","scale":{"domain":[-1.75,1.75],"nice":false,"zero":false},"axis":{"title":"Nino-3.4","values":[-1,0,1],"format":"d"}},"y":{"field":"y","type":"quantitative","scale":{"domain":[-8,8],"nice":false,"zero":false},"axis":null},"order":{"value":null},"detail":{"field":"s"}},"layer":[
{"transform":[{"filter":{"field":"l","lte":0}}],"mark":{"type":"line","interpolate":"linear-closed","clip":true,"stroke":"white","strokeWidth":2.6},"encoding":{"fill":{"field":"l","type":"ordinal","legend":null,"scale":{"domain":[-1.09,-0.91,-0.73,-0.55,-0.36,-0.18,0,0.18,0.36,0.55,0.73,0.91,1.09],"range":["#081d58","#1c2680","#244ba0","#227fb8","#46b5c9","#a3dbd0","#ffffff","#fefab5","#fed380","#fe9450","#ef5433","#c1182a","#a30026"]}}}},
{"transform":[{"filter":{"field":"l","lte":0}}],"mark":{"type":"line","interpolate":"linear-closed","clip":true,"stroke":"black","strokeWidth":1.6,"strokeDash":[6,3.5]}},
{"transform":[{"filter":{"field":"l","gt":0}}],"mark":{"type":"line","interpolate":"linear-closed","clip":true,"stroke":"black","strokeWidth":1.6},"encoding":{"fill":{"field":"l","type":"ordinal","legend":null,"scale":{"domain":[-1.09,-0.91,-0.73,-0.55,-0.36,-0.18,0,0.18,0.36,0.55,0.73,0.91,1.09],"range":["#081d58","#1c2680","#244ba0","#227fb8","#46b5c9","#a3dbd0","#ffffff","#fefab5","#fed380","#fe9450","#ef5433","#c1182a","#a30026"]}}}},
{"data":{"name":"frame"},"mark":{"type":"line","interpolate":"linear-closed","stroke":"black","strokeWidth":1.5}}
]},
{"width":292,"height":265,"title":"19.5 month lead","data":{"name":"f"},"encoding":{"x":{"field":"x","type":"quantitative","scale":{"domain":[-1.75,1.75],"nice":false,"zero":false},"axis":{"title":"Nino-3.4","values":[-1,0,1],"format":"d"}},"y":{"field":"y","type":"quantitative","scale":{"domain":[-8,8],"nice":false,"zero":false},"axis":{"title":null,"orient":"right","values":[-5,0,5],"format":"d"}},"order":{"value":null},"detail":{"field":"s"}},"layer":[
{"transform":[{"filter":{"field":"l","lte":0}}],"mark":{"type":"line","interpolate":"linear-closed","clip":true,"stroke":"white","strokeWidth":2.6},"encoding":{"fill":{"field":"l","type":"ordinal","legend":null,"scale":{"domain":[-1.09,-0.91,-0.73,-0.55,-0.36,-0.18,0,0.18,0.36,0.55,0.73,0.91,1.09],"range":["#081d58","#1c2680","#244ba0","#227fb8","#46b5c9","#a3dbd0","#ffffff","#fefab5","#fed380","#fe9450","#ef5433","#c1182a","#a30026"]}}}},
{"transform":[{"filter":{"field":"l","lte":0}}],"mark":{"type":"line","interpolate":"linear-closed","clip":true,"stroke":"black","strokeWidth":1.6,"strokeDash":[6,3.5]}},
{"transform":[{"filter":{"field":"l","gt":0}}],"mark":{"type":"line","interpolate":"linear-closed","clip":true,"stroke":"black","strokeWidth":1.6},"encoding":{"fill":{"field":"l","type":"ordinal","legend":null,"scale":{"domain":[-1.09,-0.91,-0.73,-0.55,-0.36,-0.18,0,0.18,0.36,0.55,0.73,0.91,1.09],"range":["#081d58","#1c2680","#244ba0","#227fb8","#46b5c9","#a3dbd0","#ffffff","#fefab5","#fed380","#fe9450","#ef5433","#c1182a","#a30026"]}}}},
{"data":{"name":"frame"},"mark":{"type":"line","interpolate":"linear-closed","stroke":"black","strokeWidth":1.5}}
]}
],"spacing":39,"bounds":"flush"}
],"spacing":12,"bounds":"full"},
{"width":953,"height":16,"data":{"values":[
{"s":"lo","l":-1.09,"x":-1.099,"y":0.5},{"s":"lo","l":-1.09,"x":-1,"y":1},{"s":"lo","l":-1.09,"x":-1,"y":0},
{"s":"hi","l":1.09,"x":1.099,"y":0.5},{"s":"hi","l":1.09,"x":1,"y":1},{"s":"hi","l":1.09,"x":1,"y":0},
{"s":"k01","l":-0.91,"x":-1,"y":0},{"s":"k01","l":-0.91,"x":-1,"y":1},{"s":"k01","l":-0.91,"x":-0.818,"y":1},{"s":"k01","l":-0.91,"x":-0.818,"y":0},
{"s":"k02","l":-0.73,"x":-0.818,"y":0},{"s":"k02","l":-0.73,"x":-0.818,"y":1},{"s":"k02","l":-0.73,"x":-0.636,"y":1},{"s":"k02","l":-0.73,"x":-0.636,"y":0},
{"s":"k03","l":-0.55,"x":-0.636,"y":0},{"s":"k03","l":-0.55,"x":-0.636,"y":1},{"s":"k03","l":-0.55,"x":-0.455,"y":1},{"s":"k03","l":-0.55,"x":-0.455,"y":0},
{"s":"k04","l":-0.36,"x":-0.455,"y":0},{"s":"k04","l":-0.36,"x":-0.455,"y":1},{"s":"k04","l":-0.36,"x":-0.273,"y":1},{"s":"k04","l":-0.36,"x":-0.273,"y":0},
{"s":"k05","l":-0.18,"x":-0.273,"y":0},{"s":"k05","l":-0.18,"x":-0.273,"y":1},{"s":"k05","l":-0.18,"x":-0.091,"y":1},{"s":"k05","l":-0.18,"x":-0.091,"y":0},
{"s":"k06","l":0,"x":-0.091,"y":0},{"s":"k06","l":0,"x":-0.091,"y":1},{"s":"k06","l":0,"x":0.091,"y":1},{"s":"k06","l":0,"x":0.091,"y":0},
{"s":"k07","l":0.18,"x":0.091,"y":0},{"s":"k07","l":0.18,"x":0.091,"y":1},{"s":"k07","l":0.18,"x":0.273,"y":1},{"s":"k07","l":0.18,"x":0.273,"y":0},
{"s":"k08","l":0.36,"x":0.273,"y":0},{"s":"k08","l":0.36,"x":0.273,"y":1},{"s":"k08","l":0.36,"x":0.455,"y":1},{"s":"k08","l":0.36,"x":0.455,"y":0},
{"s":"k09","l":0.55,"x":0.455,"y":0},{"s":"k09","l":0.55,"x":0.455,"y":1},{"s":"k09","l":0.55,"x":0.636,"y":1},{"s":"k09","l":0.55,"x":0.636,"y":0},
{"s":"k10","l":0.73,"x":0.636,"y":0},{"s":"k10","l":0.73,"x":0.636,"y":1},{"s":"k10","l":0.73,"x":0.818,"y":1},{"s":"k10","l":0.73,"x":0.818,"y":0},
{"s":"k11","l":0.91,"x":0.818,"y":0},{"s":"k11","l":0.91,"x":0.818,"y":1},{"s":"k11","l":0.91,"x":1,"y":1},{"s":"k11","l":0.91,"x":1,"y":0}
]},"encoding":{"x":{"field":"x","type":"quantitative","scale":{"domain":[-1.2755,1.3498],"nice":false,"zero":false},"axis":{"title":"South-East Australian 𝑇₂ₘ RPSS","values":[-1,-0.5,0,0.5,1],"format":".1f","titleX":461,"labelPadding":7,"titlePadding":23}},"y":{"field":"y","type":"quantitative","scale":{"domain":[0,1],"nice":false,"zero":false},"axis":null},"order":{"value":null},"detail":{"field":"s"}},"layer":[
{"mark":{"type":"line","interpolate":"linear-closed","strokeWidth":0},"encoding":{"fill":{"field":"l","type":"ordinal","legend":null,"scale":{"domain":[-1.09,-0.91,-0.73,-0.55,-0.36,-0.18,0,0.18,0.36,0.55,0.73,0.91,1.09],"range":["#081d58","#1c2680","#244ba0","#227fb8","#46b5c9","#a3dbd0","#ffffff","#fefab5","#fed380","#fe9450","#ef5433","#c1182a","#a30026"]}}}},
{"transform":[{"filter":{"field":"s","oneOf":["lo","hi"]}}],"mark":{"type":"line","interpolate":"linear-closed","stroke":"black","strokeWidth":0.8}},
{"data":{"values":[{"s":"bar","x":-1,"y":0},{"s":"bar","x":-1,"y":1},{"s":"bar","x":1,"y":1},{"s":"bar","x":1,"y":0}]},"mark":{"type":"line","interpolate":"linear-closed","stroke":"black","strokeWidth":0.8}}
]}
],"spacing":10,"bounds":"full"}
